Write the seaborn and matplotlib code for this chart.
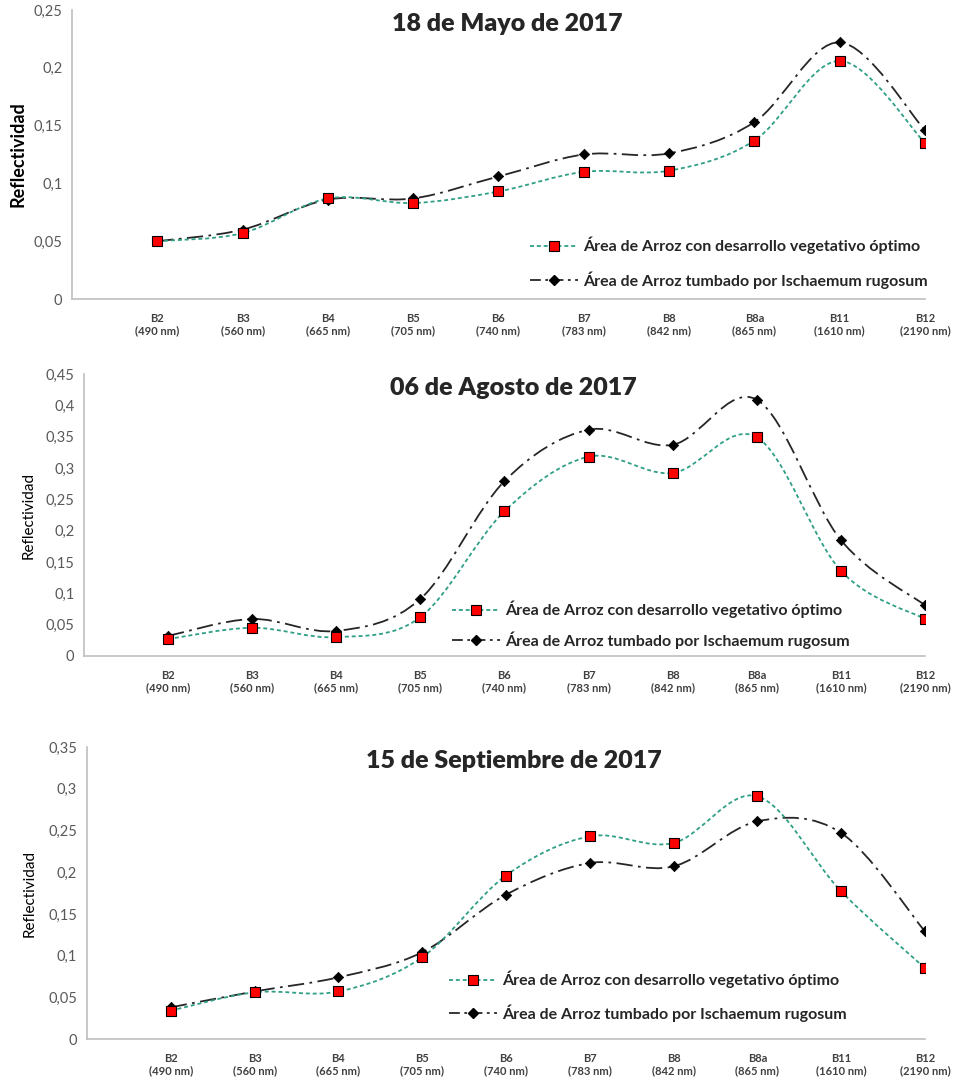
import seaborn as sns
import matplotlib.pyplot as plt
import pandas as pd
from matplotlib.path import Path
from matplotlib.patches import PathPatch
from matplotlib.lines import Line2D

BANDS = ["B2\n(490 nm)", "B3\n(560 nm)", "B4\n(665 nm)", "B5\n(705 nm)", "B6\n(740 nm)",
         "B7\n(783 nm)", "B8\n(842 nm)", "B8a\n(865 nm)", "B11\n(1610 nm)", "B12\n(2190 nm)"]
SERIES_OPT = "Área de Arroz con desarrollo vegetativo óptimo"
SERIES_TUM = "Área de Arroz tumbado por Ischaemum rugosum"

TITLES = ["18 de Mayo de 2017", "06 de Agosto de 2017", "15 de Septiembre de 2017"]

mayo_opt = [0.050, 0.057, 0.087, 0.083, 0.093, 0.110, 0.111, 0.137, 0.206, 0.135]
mayo_tum = [0.050, 0.060, 0.086, 0.087, 0.106, 0.125, 0.126, 0.153, 0.222, 0.146]
agosto_opt = [0.027, 0.045, 0.030, 0.062, 0.231, 0.318, 0.292, 0.349, 0.136, 0.059]
agosto_tum = [0.032, 0.059, 0.040, 0.091, 0.279, 0.361, 0.337, 0.409, 0.185, 0.081]
sept_opt = [0.034, 0.056, 0.057, 0.098, 0.196, 0.243, 0.235, 0.291, 0.177, 0.085]
sept_tum = [0.038, 0.057, 0.074, 0.104, 0.173, 0.211, 0.207, 0.261, 0.247, 0.129]

YMAX = [0.25, 0.45, 0.35]

GREEN = "#2f9f86"
RED = "#ff0000"
GRAY_AX = "#bfbfbf"
GRAY_TXT = "#595959"

FONT = ["Lato", "DejaVu Sans"]


def smooth_path(xs, ys):
    # Excel-like smoothed line: cubic bezier segments through the points
    n = len(xs)
    verts = [(xs[0], ys[0])]
    codes = [Path.MOVETO]
    for i in range(n - 1):
        x0, y0 = xs[max(i - 1, 0)], ys[max(i - 1, 0)]
        x1, y1 = xs[i], ys[i]
        x2, y2 = xs[i + 1], ys[i + 1]
        x3, y3 = xs[min(i + 2, n - 1)], ys[min(i + 2, n - 1)]
        c1 = (x1 + (x2 - x0) / 6, y1 + (y2 - y0) / 6)
        c2 = (x2 - (x3 - x1) / 6, y2 - (y3 - y1) / 6)
        verts += [c1, c2, (x2, y2)]
        codes += [Path.CURVE4] * 3
    return Path(verts, codes)


def main():
    sns.set_style("white")
    plt.rcParams["font.family"] = FONT

    fig = plt.figure(figsize=(9.61, 10.83), dpi=100)
    rects = [
        [0.0749, 0.7239, 0.8876, 0.2669],
        [0.0874, 0.3943, 0.8751, 0.2604],
        [0.0905, 0.0406, 0.8720, 0.2696],
    ]
    panels = [(mayo_opt, mayo_tum), (agosto_opt, agosto_tum), (sept_opt, sept_tum)]
    legend_pos = [(0.537, 0.215), (0.438, 0.195), (0.432, 0.233)]
    legend_gap = [1.05, 0.8, 1.0]
    ylabel_x = [-0.053, -0.057, -0.060]

    for idx, (opt, tum) in enumerate(panels):
        ax = fig.add_axes(rects[idx])
        df = pd.DataFrame({"pos": range(len(BANDS)), "opt": opt, "tum": tum})

        # smoothed lines
        ax.add_patch(PathPatch(smooth_path(df["pos"], df["tum"]), fill=False,
                               edgecolor="#262626", lw=1.3, linestyle=(0, (9, 3, 1.5, 3)), zorder=2))
        ax.add_patch(PathPatch(smooth_path(df["pos"], df["opt"]), fill=False,
                               edgecolor=GREEN, lw=1.3, linestyle=(0, (2.2, 1.6)), zorder=2))

        sns.scatterplot(data=df, x="pos", y="tum", marker="D", s=28, color="black",
                        edgecolor="black", linewidth=0.5, ax=ax, zorder=3)
        sns.scatterplot(data=df, x="pos", y="opt", marker="s", s=55, color=RED,
                        edgecolor="black", linewidth=0.8, ax=ax, zorder=4)

        ax.set_xlim(-1, len(BANDS) - 1)
        ax.set_ylim(0, YMAX[idx])
        ax.set_xticks(range(len(BANDS)))
        ax.set_xticklabels(BANDS, fontsize=8, fontweight="bold", color="#404040", linespacing=1.1)
        yt = [round(v * 0.05, 2) for v in range(int(round(YMAX[idx] / 0.05)) + 1)]
        ax.set_yticks(yt)
        ax.set_yticklabels([("%g" % v).replace(".", ",") for v in yt], fontsize=10.5, color=GRAY_TXT)
        ax.tick_params(axis="both", direction="out", length=4, color="#a6a6a6", width=1, pad=3)
        ax.tick_params(axis="x", pad=5, length=5)
        for side in ["top", "right"]:
            ax.spines[side].set_visible(False)
        for side in ["left", "bottom"]:
            ax.spines[side].set_color(GRAY_AX)
            ax.spines[side].set_linewidth(1.2)
        ax.set_xlabel("")
        if idx == 0:
            ax.set_ylabel("Reflectividad", fontsize=13, fontweight="bold", color="black")
        else:
            ax.set_ylabel("Reflectividad", fontsize=11, color="black")
        ax.yaxis.set_label_coords(ylabel_x[idx], 0.5)

        ax.set_title(TITLES[idx], fontsize=18, fontweight="heavy", pad=-15, y=1.0, x=0.51)

        handles = [
            Line2D([], [], color=GREEN, lw=1.3, linestyle=(0, (2.2, 1.6)), marker="s",
                   markersize=7, markerfacecolor=RED, markeredgecolor="black", markeredgewidth=0.8),
            Line2D([], [], color="#262626", lw=1.3, linestyle=(0, (6, 2.5, 1.5, 2.5)), marker="D",
                   markersize=5, markerfacecolor="black", markeredgecolor="black"),
        ]
        ax.legend(handles, [SERIES_OPT, SERIES_TUM], loc="upper left",
                  bbox_to_anchor=legend_pos[idx], frameon=False,
                  prop={"weight": "bold", "size": 11.5, "family": FONT},
                  handlelength=3.0, handletextpad=0.3, labelspacing=legend_gap[idx],
                  borderaxespad=0, borderpad=0)

    fig.savefig("out.png", dpi=100)


if __name__ == "__main__":
    main()
